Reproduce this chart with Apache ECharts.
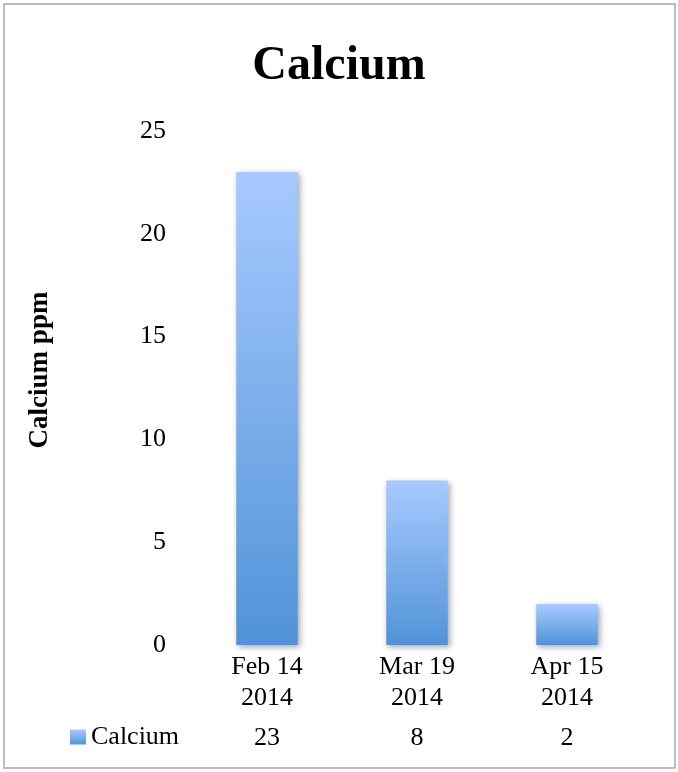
<!DOCTYPE html>
<html>
<head>
<meta charset="utf-8">
<script src="https://cdn.jsdelivr.net/npm/echarts@6/dist/echarts.min.js"></script>
<style>
html,body{margin:0;padding:0;background:#fff;}
#chart{width:678px;height:772px;}
</style>
</head>
<body>
<div id="chart"></div>
<script>
const titleText = 'Calcium';
const seriesName = 'Calcium';
const yAxisName = 'Calcium ppm';
const categories = ['Feb 14\n2014', 'Mar 19\n2014', 'Apr 15\n2014'];
const values = [23, 8, 2];
const yTicks = {min: 0, max: 25, interval: 5};

const font = '"Liberation Serif", "DejaVu Serif", serif';
const chart = echarts.init(document.getElementById('chart'));
const barGradient = new echarts.graphic.LinearGradient(0, 0, 0, 1, [
  {offset: 0, color: '#a7caff'},
  {offset: 1, color: '#5193d8'}
]);
chart.setOption({
  animation: false,
  backgroundColor: '#fff',
  textStyle: {fontFamily: font},
  title: {
    text: titleText,
    left: 'center',
    top: 38,
    textStyle: {fontFamily: font, fontWeight: 'bold', fontSize: 48, color: '#000'}
  },
  graphic: [{
    type: 'rect',
    shape: {x: 4, y: 4, width: 671, height: 764},
    style: {fill: 'none', stroke: '#a8a8a8', lineWidth: 1.5},
    silent: true
  }],
  legend: {
    left: 70,
    top: 724,
    padding: 0,
    icon: 'rect',
    itemWidth: 16,
    itemHeight: 15,
    itemGap: 5,
    data: [seriesName],
    textStyle: {fontFamily: font, fontSize: 26, lineHeight: 26, color: '#000'}
  },
  grid: {left: 192, right: 36, top: 131, bottom: 127, containLabel: false},
  xAxis: [{
    type: 'category',
    data: categories,
    axisLine: {show: false},
    axisTick: {show: false},
    axisLabel: {fontFamily: font, fontSize: 26, color: '#000', lineHeight: 31, margin: 7}
  }, {
    type: 'category',
    data: values.map(String),
    position: 'bottom',
    offset: 72,
    axisLine: {show: false},
    axisTick: {show: false},
    axisLabel: {fontFamily: font, fontSize: 26, color: '#000', lineHeight: 31, margin: 6}
  }],
  yAxis: {
    type: 'value',
    min: yTicks.min,
    max: yTicks.max,
    interval: yTicks.interval,
    name: yAxisName,
    nameLocation: 'middle',
    nameGap: 138,
    nameTextStyle: {fontFamily: font, fontWeight: 'bold', fontSize: 27, color: '#000', padding: [0, 0, 0, 36]},
    axisLine: {show: false},
    axisTick: {show: false},
    splitLine: {show: false},
    axisLabel: {fontFamily: font, fontSize: 26, color: '#000', margin: 26}
  },
  series: [{
    name: seriesName,
    type: 'bar',
    data: values,
    barWidth: '41%',
    itemStyle: {
      color: barGradient,
      shadowBlur: 6,
      shadowColor: 'rgba(0,0,0,0.35)',
      shadowOffsetX: 2,
      shadowOffsetY: 2
    }
  }]
});
</script>
</body>
</html>
